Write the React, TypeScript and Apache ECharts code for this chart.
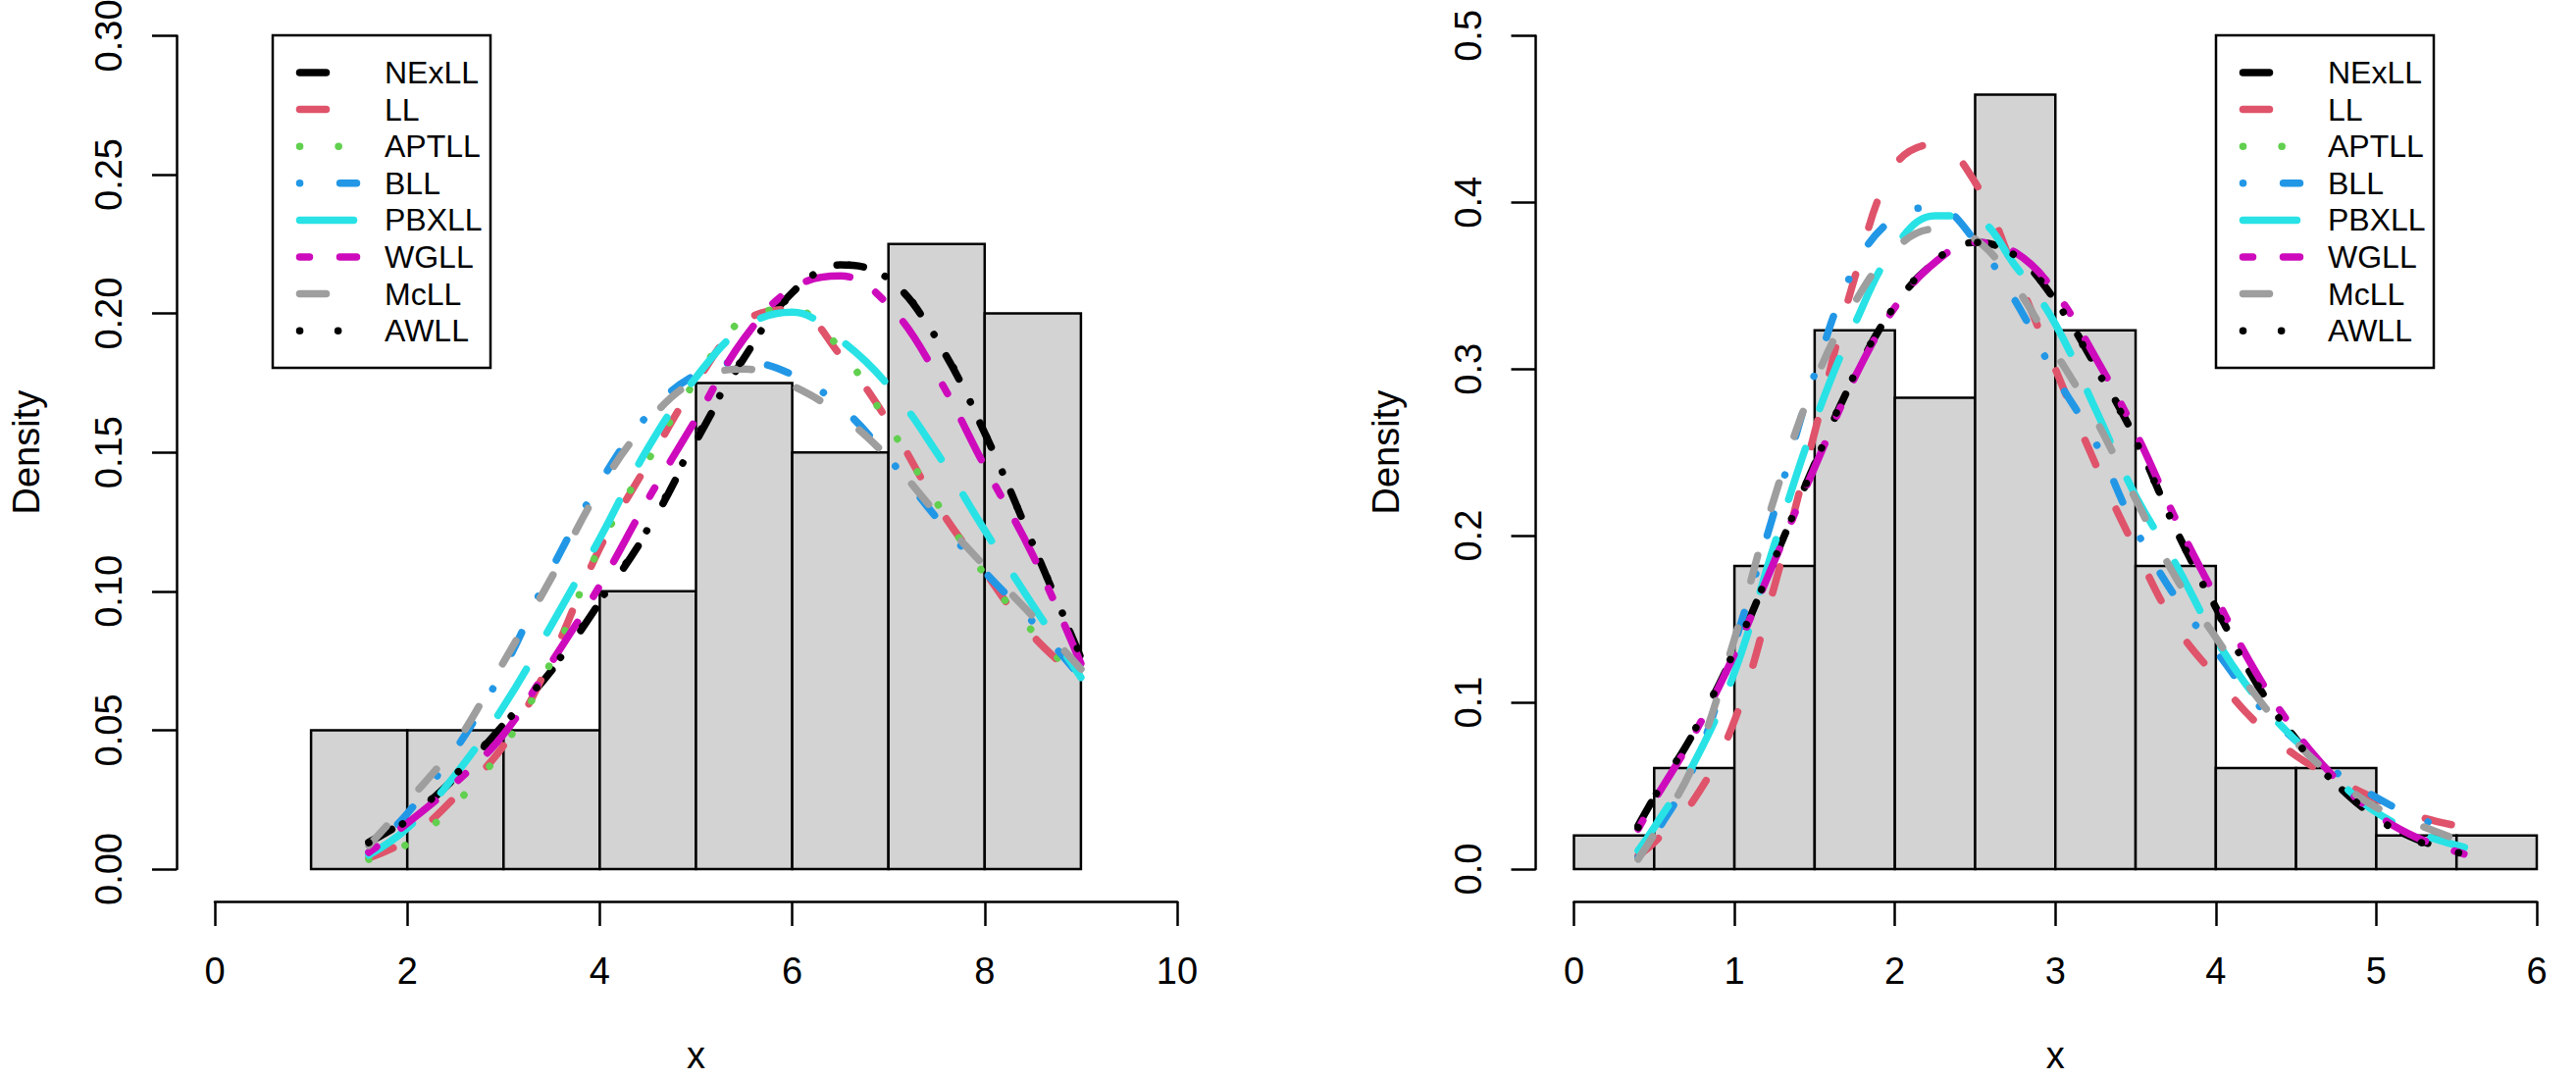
import React, { useEffect, useRef } from "react";
import * as echarts from "echarts";

// ---------- data ----------
const modelNames = ["NExLL", "LL", "APTLL", "BLL", "PBXLL", "WGLL", "McLL", "AWLL"];

// left panel histogram (density scale)
const leftBreaks = [1, 2, 3, 4, 5, 6, 7, 8, 9];
const leftDensity = [0.05, 0.05, 0.05, 0.1, 0.175, 0.15, 0.225, 0.2];

// right panel histogram (density scale)
const rightBreaks = [0, 0.5, 1, 1.5, 2, 2.5, 3, 3.5, 4, 4.5, 5, 5.5, 6];
const rightDensity = [0.0202, 0.0606, 0.1818, 0.3232, 0.2828, 0.4646, 0.3232, 0.1818, 0.0606, 0.0606, 0.0202, 0.0202];

// left panel fitted densities
const leftX = [1.6, 2.0, 2.5, 3.0, 3.5, 4.0, 4.5, 5.0, 5.5, 6.0, 6.5, 7.0, 7.5, 8.0, 8.5, 9.0];
const leftNExLL = [0.0097, 0.018, 0.033, 0.052, 0.0715, 0.096, 0.122, 0.154, 0.184, 0.2075, 0.2175, 0.2125, 0.1905, 0.157, 0.117, 0.076];
const leftLL = [0.004, 0.0105, 0.026, 0.0445, 0.076, 0.1155, 0.146, 0.175, 0.197, 0.2015, 0.185, 0.161, 0.1315, 0.107, 0.084, 0.068];
const leftAPTLL = [0.0035, 0.009, 0.0235, 0.044, 0.075, 0.116, 0.147, 0.176, 0.198, 0.2015, 0.187, 0.16, 0.132, 0.106, 0.0855, 0.0675];
const leftBLL = [0.006, 0.02, 0.043, 0.072, 0.108, 0.139, 0.1635, 0.178, 0.1825, 0.178, 0.1665, 0.148, 0.1265, 0.107, 0.089, 0.069];
const leftPBXLL = [0.005, 0.0147, 0.034, 0.0585, 0.088, 0.119, 0.1515, 0.177, 0.195, 0.2005, 0.1905, 0.174, 0.15, 0.122, 0.095, 0.069];
const leftWGLL = [0.006, 0.0165, 0.031, 0.0485, 0.0745, 0.102, 0.133, 0.162, 0.191, 0.209, 0.2135, 0.203, 0.178, 0.145, 0.113, 0.074];
const leftMcLL = [0.0085, 0.024, 0.045, 0.0745, 0.105, 0.137, 0.161, 0.176, 0.18, 0.174, 0.1635, 0.148, 0.128, 0.109, 0.091, 0.072];
const leftAWLL = [0.0095, 0.0175, 0.034, 0.052, 0.072, 0.0965, 0.1225, 0.155, 0.1845, 0.207, 0.2175, 0.2125, 0.191, 0.157, 0.117, 0.0765];

// right panel fitted densities (APTLL is not drawn in this panel)
const rightX = [0.4, 0.5, 0.75, 1.0, 1.25, 1.5, 1.75, 2.0, 2.25, 2.5, 2.75, 3.0, 3.25, 3.5, 3.75, 4.0, 4.25, 4.5, 4.75, 5.0, 5.25, 5.55];
const rightNExLL = [0.026, 0.043, 0.0825, 0.13, 0.186, 0.243, 0.296, 0.338, 0.364, 0.376, 0.368, 0.341, 0.302, 0.258, 0.204, 0.157, 0.112, 0.078, 0.051, 0.031, 0.018, 0.009];
const rightLL = [0.008, 0.016, 0.042, 0.089, 0.17, 0.262, 0.355, 0.422, 0.435, 0.412, 0.358, 0.3, 0.243, 0.192, 0.146, 0.1153, 0.088, 0.068, 0.054, 0.042, 0.032, 0.025];
const rightBLL = [0.007, 0.02, 0.062, 0.135, 0.215, 0.297, 0.361, 0.391, 0.397, 0.377, 0.341, 0.296, 0.256, 0.204, 0.163, 0.131, 0.1, 0.077, 0.058, 0.043, 0.031, 0.021];
const rightPBXLL = [0.011, 0.025, 0.064, 0.118, 0.195, 0.268, 0.327, 0.373, 0.392, 0.39, 0.362, 0.327, 0.276, 0.224, 0.183, 0.138, 0.103, 0.077, 0.054, 0.034, 0.022, 0.013];
const rightWGLL = [0.024, 0.041, 0.081, 0.129, 0.185, 0.241, 0.295, 0.337, 0.364, 0.376, 0.37, 0.346, 0.307, 0.262, 0.21, 0.163, 0.118, 0.082, 0.054, 0.033, 0.019, 0.009];
const rightMcLL = [0.006, 0.021, 0.064, 0.138, 0.223, 0.292, 0.34, 0.372, 0.384, 0.378, 0.35, 0.31, 0.27, 0.222, 0.175, 0.139, 0.104, 0.076, 0.054, 0.037, 0.027, 0.016];
const rightAWLL = [0.025, 0.043, 0.083, 0.131, 0.186, 0.243, 0.297, 0.338, 0.365, 0.376, 0.368, 0.341, 0.301, 0.257, 0.204, 0.156, 0.112, 0.077, 0.051, 0.031, 0.017, 0.009];

const leftCurves: (number[] | null)[] = [leftNExLL, leftLL, leftAPTLL, leftBLL, leftPBXLL, leftWGLL, leftMcLL, leftAWLL];
const rightCurves: (number[] | null)[] = [rightNExLL, rightLL, null, rightBLL, rightPBXLL, rightWGLL, rightMcLL, rightAWLL];

// ---------- styles ----------
const colors = ["#000000", "#DF536B", "#61D04F", "#2297E6", "#28E2E5", "#CD0BBC", "#9E9E9E", "#000000"];
const dashes = [
  [27, 50],
  [27, 50],
  [0.1, 39.5],
  [0.1, 41, 23, 41],
  [55, 43],
  [10, 31, 45, 31],
  [27, 50],
  [0.1, 39],
];
const LW = 7.5;
const FONT = '"Liberation Sans", Arial, Helvetica, sans-serif';

const panels = [
  { left: 219, width: 981, xMax: 10, xInt: 2, yMax: 0.3, yInt: 0.05, yDigits: 2, legendLeft: 278, breaks: leftBreaks, dens: leftDensity, xs: leftX, curves: leftCurves },
  { left: 1604.5, width: 981.5, xMax: 6, xInt: 1, yMax: 0.5, yInt: 0.1, yDigits: 1, legendLeft: 2259, breaks: rightBreaks, dens: rightDensity, xs: rightX, curves: rightCurves },
];
const TOP = 36.4;
const HEIGHT = 849.6;

export default function App() {
  const ref = useRef<HTMLDivElement>(null);
  useEffect(() => {
    if (!ref.current) return;
    const chart = echarts.init(ref.current, undefined, { renderer: "svg" });

    const grid = panels.map((p) => ({
      left: p.left,
      top: TOP,
      width: p.width,
      height: HEIGHT,
      containLabel: false,
      outerBoundsMode: "none",
    }));
    const axisLine = { show: true, onZero: false, lineStyle: { color: "#000", width: 2.5 } };
    const axisTick = { show: true, inside: false, length: 25, lineStyle: { color: "#000", width: 2.5 } };

    const xAxis = panels.map((p, i) => ({
      type: "value",
      gridIndex: i,
      position: "bottom",
      min: 0,
      max: p.xMax,
      interval: p.xInt,
      offset: 33,
      axisLine,
      axisTick,
      splitLine: { show: false },
      axisLabel: { fontSize: 38, color: "#000", fontFamily: FONT, margin: 52 },
      name: "x",
      nameLocation: "middle",
      nameGap: 142,
      nameTextStyle: { fontSize: 38, lineHeight: 30, color: "#000", fontFamily: FONT },
    }));
    const yAxis = panels.map((p, i) => ({
      type: "value",
      gridIndex: i,
      position: "left",
      min: 0,
      max: p.yMax,
      interval: p.yInt,
      offset: 39,
      axisLine,
      axisTick,
      splitLine: { show: false },
      axisLabel: {
        fontSize: 38,
        color: "#000",
        fontFamily: FONT,
        rotate: 90,
        margin: 50,
        formatter: (v: number) => v.toFixed(p.yDigits),
      },
      name: "Density",
      nameLocation: "middle",
      nameGap: 134,
      nameTextStyle: { fontSize: 38, lineHeight: 38, color: "#000", fontFamily: FONT },
    }));

    const series: any[] = [];
    panels.forEach((p, pi) => {
      series.push({
        type: "custom",
        xAxisIndex: pi,
        yAxisIndex: pi,
        silent: true,
        z: 1,
        data: p.dens.map((d, i) => [p.breaks[i], p.breaks[i + 1], d]),
        encode: { x: [0, 1], y: 2 },
        renderItem: (_params: any, api: any) => {
          const p0 = api.coord([api.value(0), 0]);
          const p1 = api.coord([api.value(1), api.value(2)]);
          return {
            type: "rect",
            shape: { x: p0[0], y: p1[1], width: p1[0] - p0[0], height: p0[1] - p1[1] },
            style: { fill: "#D3D3D3", stroke: "#000", lineWidth: 2.5 },
          };
        },
      });
      p.curves.forEach((ys, ci) => {
        if (!ys) return;
        series.push({
          type: "line",
          name: modelNames[ci] + (pi === 0 ? "" : " "),
          xAxisIndex: pi,
          yAxisIndex: pi,
          silent: true,
          z: 2 + ci,
          smooth: 0.4,
          showSymbol: false,
          symbol: "none",
          data: ys.map((y, k) => [p.xs[k], y]),
          lineStyle: { color: colors[ci], width: LW, type: dashes[ci], cap: "round", join: "round" },
        });
      });
    });

    const graphic: any[] = [];
    panels.forEach((p) => {
      const L = p.legendLeft;
      graphic.push({
        type: "rect",
        z: 20,
        shape: { x: L, y: 36, width: 222, height: 339 },
        style: { fill: "#fff", stroke: "#000", lineWidth: 2.5 },
      });
      modelNames.forEach((nm, i) => {
        const y = 74 + i * 37.6;
        graphic.push({
          type: "line",
          z: 21,
          shape: { x1: L + 27.5, y1: y, x2: L + 85.5, y2: y },
          style: { stroke: colors[i], lineWidth: LW, lineDash: dashes[i], lineCap: "round" },
        });
        graphic.push({
          type: "text",
          z: 21,
          x: L + 114,
          y: y,
          style: { text: nm, fill: "#000", fontSize: 32, fontFamily: FONT, textAlign: "left", textVerticalAlign: "middle", verticalAlign: "middle" },
        });
      });
    });

    chart.setOption({
      animation: false,
      backgroundColor: "#fff",
      grid,
      xAxis,
      yAxis,
      series,
      graphic,
    });
    return () => chart.dispose();
  }, []);
  return <div ref={ref} style={{ position: "fixed", left: 0, top: 0, width: 2626, height: 1099 }} />;
}
